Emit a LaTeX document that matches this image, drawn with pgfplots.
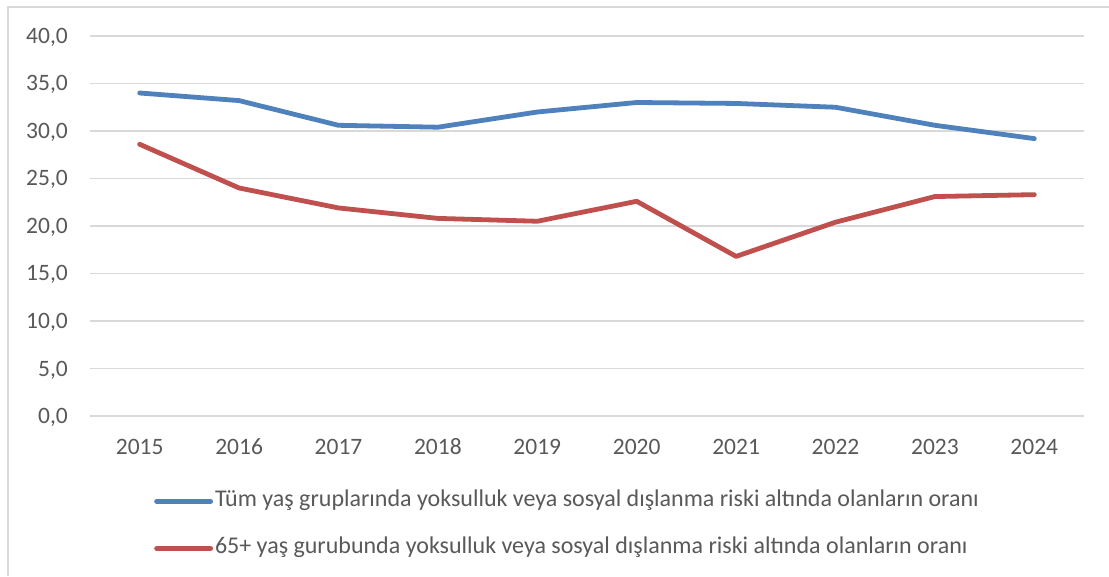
\documentclass[border=0pt]{standalone}
\usepackage{pgfplots}
\pgfplotsset{compat=1.18}
\usepackage{fontspec}
\setmainfont{Carlito}
\definecolor{sblue}{HTML}{4F81BD}
\definecolor{sred}{HTML}{C0504D}
\definecolor{gridc}{HTML}{D9D9D9}
\definecolor{txt}{HTML}{595959}
\begin{document}
\begin{tikzpicture}[x=1pt,y=1pt]
\useasboundingbox (0,0) rectangle (1109,576);
\fill[white] (0,0) rectangle (1109,576);
\draw[gridc, line width=1.3pt] (8,0) -- (8,569) -- (1109,569);
\begin{axis}[
  at={(90pt,160pt)}, anchor=south west,
  scale only axis, width=994pt, height=380pt,
  xmin=-0.5, xmax=9.5, ymin=0, ymax=40,
  xtick={0,...,9},
  xticklabels={2015,2016,2017,2018,2019,2020,2021,2022,2023,2024},
  ytick={0,5,...,40},
  axis line style={draw=none},
  major tick length=0pt,
  ymajorgrids, grid style={gridc, line width=1.3pt},
  clip=false,
  /pgf/number format/assume math mode=true,
  yticklabel style={/pgf/number format/fixed, /pgf/number format/fixed zerofill, /pgf/number format/precision=1, /pgf/number format/use comma},
  ticklabel style={font=\fontsize{23.5}{28}\selectfont, text=txt},
  yticklabel style={inner sep=0pt, anchor=east, xshift=-22pt, text height=15pt, text depth=0pt},
  xticklabel style={inner sep=0pt, anchor=north, yshift=-23pt, text height=15pt, text depth=0pt},
  legend style={draw=none, fill=none, at={(0.0614,-0.19)}, anchor=north west,
    font=\fontsize{24}{28}\selectfont, text=txt,
    row sep=25pt,
    nodes={inner xsep=2pt, inner ysep=0pt, text height=16pt, text depth=6pt}},
  legend cell align=left,
  legend image code/.code={\draw[#1, line cap=round] (0pt,0pt) -- (54pt,0pt);},
]
\addplot[sblue, line width=4.8pt, line join=round, line cap=round] coordinates {
 (0,34.0) (1,33.2) (2,30.6) (3,30.4) (4,32.0) (5,33.0) (6,32.9) (7,32.5) (8,30.6) (9,29.2)};
\addlegendentry{Tüm yaş gruplarında yoksulluk veya sosyal dışlanma riski altında olanların oranı}
\addplot[sred, line width=4.8pt, line join=round, line cap=round] coordinates {
 (0,28.6) (1,24.0) (2,21.9) (3,20.8) (4,20.5) (5,22.6) (6,16.8) (7,20.4) (8,23.1) (9,23.3)};
\addlegendentry{65+ yaş gurubunda yoksulluk veya sosyal dışlanma riski altında olanların oranı}
\end{axis}
\end{tikzpicture}
\end{document}
